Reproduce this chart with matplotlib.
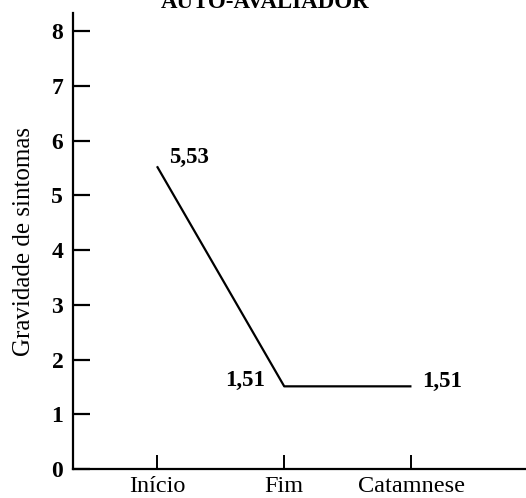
import matplotlib
matplotlib.use("Agg")
import matplotlib.pyplot as plt

categories = ["Início", "Fim", "Catamnese"]
values = [5.53, 1.51, 1.51]
value_labels = ["5,53", "1,51", "1,51"]
yticks = [0, 1, 2, 3, 4, 5, 6, 7, 8]
title = "AUTO-AVALIADOR"
ylabel = "Gravidade de sintomas"

W, H = 526, 498
fig = plt.figure(figsize=(W / 100, H / 100), dpi=100)
ax = fig.add_axes([73 / W, 1 - 469 / H, 1 - 73 / W, (469 - 13) / H])

serif = ["Liberation Serif", "DejaVu Serif"]
x = list(range(len(categories)))
ax.plot(x, values, color="black", lw=1.6, solid_capstyle="butt")

ax.set_xlim(-0.66, 2.9)
ax.set_ylim(0, 8.33)
for s in ["top", "right"]:
    ax.spines[s].set_visible(False)
for s in ["left", "bottom"]:
    ax.spines[s].set_linewidth(1.6)

ax.set_yticks(yticks)
ax.set_yticklabels([str(v) for v in yticks], fontfamily=serif, fontweight="bold", fontsize=17)
ax.set_xticks(x)
ax.set_xticklabels(categories, fontfamily=serif, fontsize=17.5)
ax.tick_params(axis="y", direction="in", length=12, width=1.6, pad=7)
ax.tick_params(axis="x", direction="in", length=10, width=1.4, pad=5)

ax.set_ylabel(ylabel, fontfamily=serif, fontsize=18, labelpad=12)

offsets = [((12, 9), "left"), ((-19, 6), "right"), ((11, 5), "left")]
for xi, v, lab, (off, ha) in zip(x, values, value_labels, offsets):
    ax.annotate(lab, (xi, v), xytext=off, textcoords="offset pixels",
                ha=ha, va="center", fontfamily=serif, fontweight="bold", fontsize=16.5)

fig.text(265 / W, 1 - 8 / H, title, ha="center", va="baseline",
         fontfamily=serif, fontweight="bold", fontsize=16.5)

fig.savefig("out.png", dpi=100)
